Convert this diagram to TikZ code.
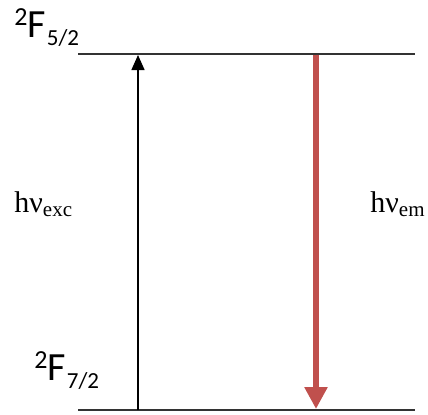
\documentclass[tikz,border=0pt]{standalone}
\usepackage{fontspec}
\usetikzlibrary{arrows.meta}
\newfontfamily\levelfont{Carlito}
\newfontfamily\photonfont{Liberation Serif}
\definecolor{emred}{RGB}{192,80,77}
\tikzset{
  level/.style={line width=0.75pt, black!80},
  termlabel/.style={anchor=base west, inner sep=0pt, font=\levelfont\fontsize{20}{24}\selectfont},
  photonlabel/.style={anchor=base west, inner sep=0pt, font=\photonfont\fontsize{15}{18}\selectfont},
}
\newcommand{\term}[2]{\raisebox{6pt}{\fontsize{13}{15}\selectfont #1}F\kern0.5pt\raisebox{-4pt}{\fontsize{11.5}{14}\selectfont #2}}
\newcommand{\photon}[1]{hν\raisebox{-2pt}{\fontsize{10.5}{12}\selectfont #1}}
\begin{document}
\begin{tikzpicture}[x=0.5pt,y=-0.5pt]
\useasboundingbox (0,0) rectangle (428,414);

% Niveles
\coordinate (up1) at (78,54);
\coordinate (up2) at (415,54);
\coordinate (lo1) at (78,410);
\coordinate (lo2) at (415,410);
\draw [level] (up1) -- (up2);
\draw [level] (lo1) -- (lo2);

% Etiquetas de los niveles
\node [termlabel] (f52) at (14,37) {\term{2}{5/2}};
\node [termlabel] (f72) at (34,380) {\term{2}{7/2}};

% Excitacion
\coordinate (exc0) at (138,410);
\coordinate (exc1) at (138,55);
\draw [line width=0.75pt, -{Triangle[length=7.5pt,width=6.5pt]}] (exc0) -- (exc1);

% Emision
\coordinate (em0) at (316,55);
\coordinate (em1) at (316,409);
\draw [emred, line width=3pt, -{Triangle[length=11pt,width=11pt]}] (em0) -- (em1);

% Fotones
\node [photonlabel] (hexc) at (14,212) {\photon{exc}};
\node [photonlabel] (hem) at (370,212) {\photon{em}};
\end{tikzpicture}
\end{document}
